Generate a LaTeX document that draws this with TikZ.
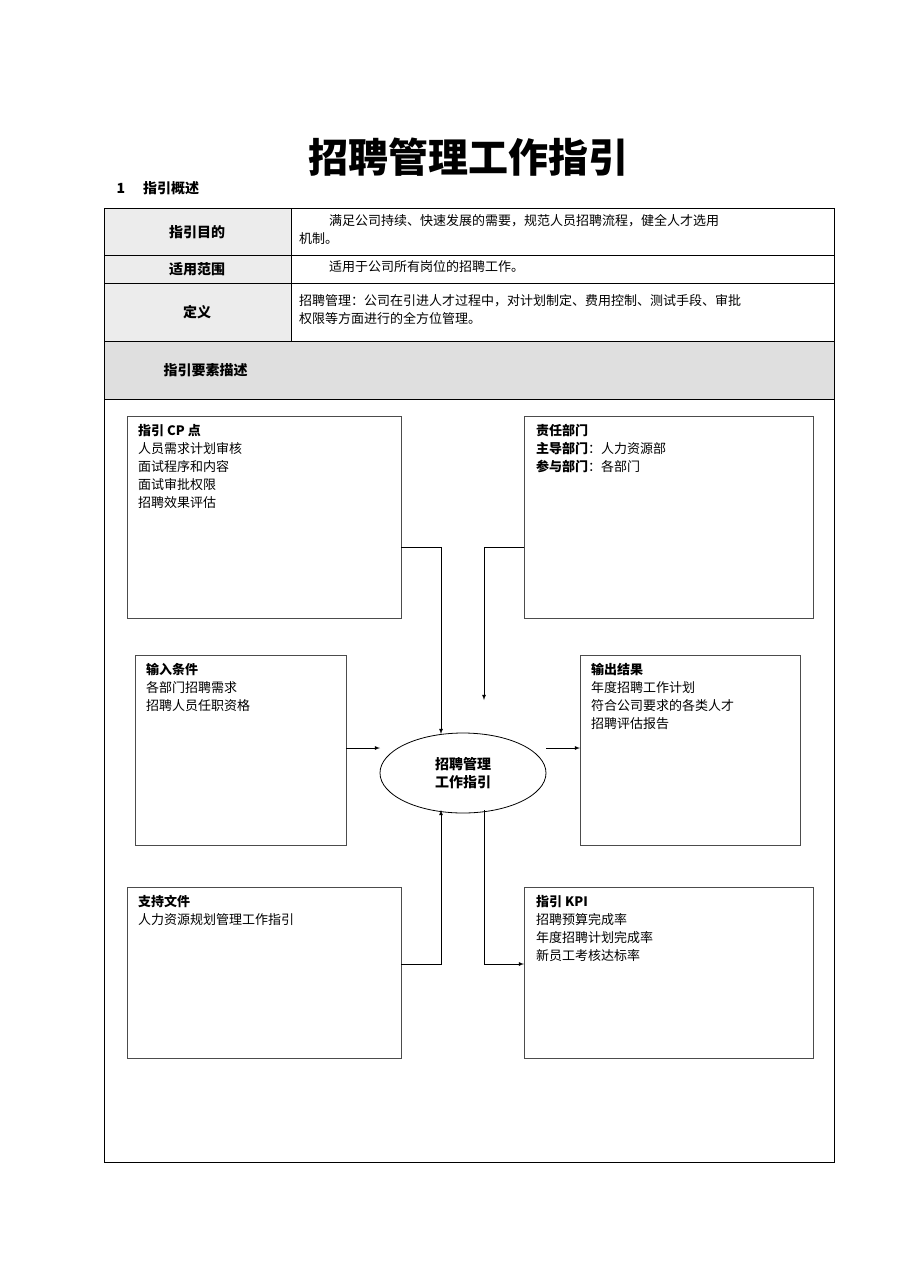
\documentclass[tikz,border=0pt]{standalone}
\usepackage{fontspec}
\setmainfont{Noto Sans CJK SC}
\newfontfamily\cjkbold[BoldFont={Noto Sans CJK SC Bold}]{Noto Sans CJK SC}
\usetikzlibrary{positioning,shapes.geometric}
\tikzset{
  body/.style={font=\fontsize{13}{18}\selectfont},
  hd/.style={font=\fontsize{14}{18}\selectfont\bfseries},
  box/.style={draw=black!70, line width=0.8pt},
  info/.style={body, anchor=north west, align=left, inner sep=0pt},
  link/.style={->, >=latex, line width=0.8pt},
  cell/.style={draw, line width=0.8pt}
}
\begin{document}
\begin{tikzpicture}[x=1pt, y=-1pt]
\useasboundingbox (0,0) rectangle (909,1286);
% title
\node (title) at (468,157) {\fontsize{40}{44}\selectfont\bfseries 招聘管理工作指引};
\node[hd, anchor=west] (sec) at (113,188) {1\hspace{18pt}指引概述};
% table
\fill[gray!15] (104,208) rectangle (291,341);
\fill[gray!25] (104,341) rectangle (834,399);
\draw[cell] (104,208) rectangle (834,1162);
\draw[cell] (104,255) -- (834,255);
\draw[cell] (104,283) -- (834,283);
\draw[cell] (104,341) -- (834,341);
\draw[cell] (104,399) -- (834,399);
\draw[cell] (291,208) -- (291,341);
\node[hd] (aim) at (197,232) {指引目的};
\node[hd] (scope) at (197,269) {适用范围};
\node[hd] (defn) at (197,312) {定义};
\node[hd, anchor=west] (elem) at (160,370) {指引要素描述};
\node[info] (aimtxt) at (299,214) {\hspace{30pt}满足公司持续、快速发展的需要，规范人员招聘流程，健全人才选用\\机制。};
\node[info] (scopetxt) at (299,260) {\hspace{30pt}适用于公司所有岗位的招聘工作。};
\node[info] (defntxt) at (299,294) {招聘管理：公司在引进人才过程中，对计划制定、费用控制、测试手段、审批\\权限等方面进行的全方位管理。};
% boxes
\draw[box] (127,416) rectangle (401,618);
\draw[box] (524,416) rectangle (813,618);
\draw[box] (135,655) rectangle (346,845);
\draw[box] (580,655) rectangle (800,845);
\draw[box] (127,887) rectangle (401,1058);
\draw[box] (524,887) rectangle (813,1058);
\node[info] (cp) at (138,424) {\textbf{指引 CP 点}\\人员需求计划审核\\面试程序和内容\\面试审批权限\\招聘效果评估};
\node[info] (resp) at (536,424) {\textbf{责任部门}\\\textbf{主导部门}：人力资源部\\\textbf{参与部门}：各部门};
\node[info] (in) at (146,663) {\textbf{输入条件}\\各部门招聘需求\\招聘人员任职资格};
\node[info] (out) at (591,663) {\textbf{输出结果}\\年度招聘工作计划\\符合公司要求的各类人才\\招聘评估报告};
\node[info] (sup) at (138,895) {\textbf{支持文件}\\人力资源规划管理工作指引};
\node[info] (kpi) at (536,895) {\textbf{指引 KPI}\\招聘预算完成率\\年度招聘计划完成率\\新员工考核达标率};
% centre
\node[draw, line width=0.8pt, ellipse, minimum width=166pt, minimum height=80pt, align=center, font=\fontsize{14}{18}\selectfont\bfseries] (core) at (463,773) {招聘管理\\工作指引};
\coordinate (cpR) at (401,547);
\coordinate (respL) at (524,547);
\coordinate (inR) at (346,748);
\coordinate (outL) at (580,748);
\coordinate (supR) at (401,964);
\coordinate (kpiL) at (524,964);
% links
\draw[link] (cpR) -| (441,734);
\draw[link] (respL) -| (484,700);
\draw[link] (inR) -- (380,748);
\draw[link] (546,748) -- (outL);
\draw[link] (supR) -| (441,810);
\draw[link] (484,810) |- (kpiL);
\end{tikzpicture}
\end{document}
